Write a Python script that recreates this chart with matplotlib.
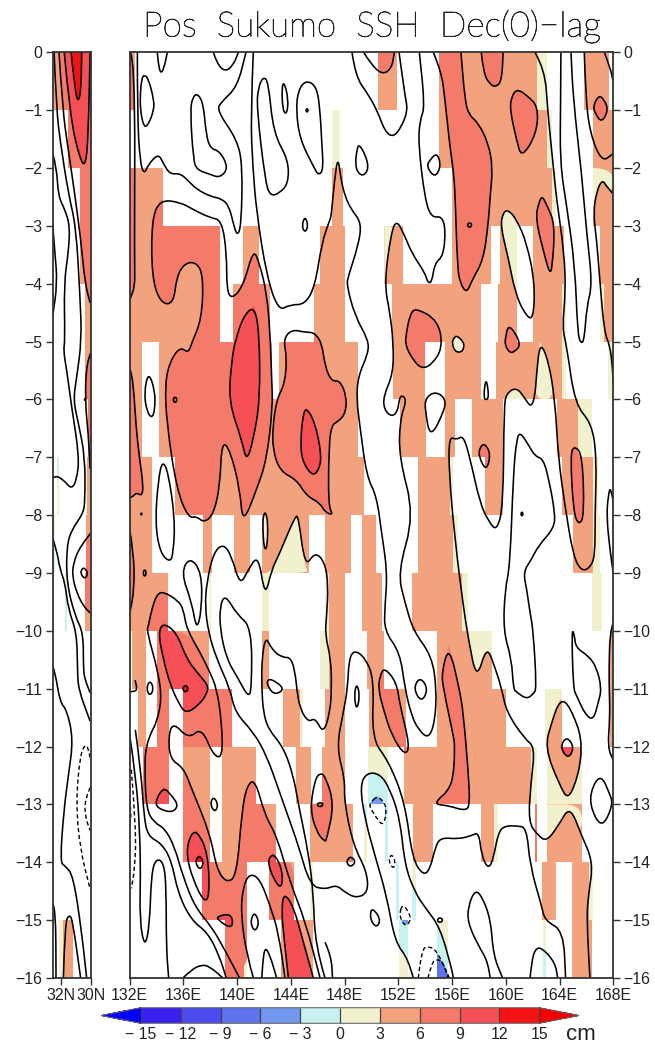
import numpy as np
import matplotlib
matplotlib.use('Agg')
import matplotlib.pyplot as plt
import matplotlib.patheffects as pe
from matplotlib.colors import ListedColormap, BoundaryNorm
from matplotlib.cm import ScalarMappable
from matplotlib.path import Path
from matplotlib.patches import PathPatch

plt.rcParams['font.family'] = ['Liberation Sans', 'DejaVu Sans']

levels = [-15, -12, -9, -6, -3, 0, 3, 6, 9, 12, 15]
level_colors = ['#3a20ee', '#4a4cf0', '#5e74ec', '#7398f0', '#c6f2f0',
                '#f1f1cd', '#f2a27c', '#f47a6a', '#f45055', '#f51212']
lag_ticks = list(range(0, -17, -1))
lon_ticks = list(range(132, 169, 4))

# shaded stretches per lag row (row i spans lag -i to -i-1): start, end, class lower bound
main_rows = [
    [(132, 132.4, 3), (150.46, 151.87, 3), (155.05, 162.3, 3), (162.3, 163.04, 0), (165.84, 167.7, 3)],
    [(147.03, 147.65, 0), (155.05, 163.1, 3), (163.1, 163.4, 0), (166.46, 168, 3)],
    [(132, 134.5, 3), (147.03, 147.9, 3), (156, 163.45, 3), (163.45, 163.7, 0), (166.46, 168, 3)],
    [(132, 138.7, 3), (140.46, 141.65, 3), (146.17, 148.05, 3), (150.95, 152.37, 3), (156, 158.87, 3),
     (159.6, 160.8, 3), (162.05, 164.35, 3), (167, 168, 3)],
    [(132, 138.7, 3), (139.7, 142.45, 3), (145.75, 148.05, 3), (151.5, 158.15, 3), (159.44, 160.8, 3),
     (162.05, 164.2, 3), (164.2, 164.45, 0), (167, 167.3, 0), (167.3, 168, 3)],
    [(132, 132.9, 3), (134.2, 142.57, 3), (143.13, 149.0, 3), (151.62, 153.98, 3), (155.47, 158.15, 3),
     (159.3, 164.2, 3), (164.2, 164.45, 0), (167.63, 168, 0)],
    [(132, 132.9, 3), (134.2, 149.0, 3), (152.12, 154.05, 3), (155.47, 156.2, 3), (157.45, 159.8, 3),
     (163.78, 165.4, 3), (165.4, 166.4, 0)],
    [(132, 133.64, 3), (135.37, 149.46, 3), (153.48, 155.85, 3), (155.85, 156.1, 0), (158.45, 159.8, 3),
     (164.15, 166.5, 3), (166.5, 166.88, 0)],
    [(132, 133.64, 3), (137.48, 138.1, 3), (139.8, 140.96, 3), (141.83, 145.37, 3), (146.54, 148.47, 3),
     (149.3, 150.3, 3), (153.48, 156.1, 3), (156.1, 156.45, 0), (165.02, 166.5, 3), (166.5, 167, 0)],
    [(132, 134.88, 3), (137.9, 138.05, 0), (141.83, 142.4, 0), (146.55, 146.8, 0), (146.8, 148, 3),
     (149.3, 150.8, 3), (153, 156.7, 3), (156.7, 157.2, 0), (166.4, 167.13, 0)],
    [(132.2, 133.2, 3), (134, 137.93, 3), (141.83, 142.4, 3), (146.17, 146.8, 0), (146.8, 148, 3),
     (149.7, 150.9, 3), (154.85, 158.95, 3), (167.75, 168, 3)],
    [(132.65, 133.2, 3), (134, 134.95, 6), (135.95, 139.64, 6), (143.4, 144.7, 3), (144.7, 144.9, 0),
     (146.54, 148, 3), (149.8, 152.6, 3), (154.85, 160, 3), (162.9, 164.2, 0), (167.75, 168, 3)],
    [(133, 134.95, 6), (135.95, 138, 3), (138.85, 141.4, 3), (144.4, 145.5, 3), (146.3, 148, 3),
     (149.75, 151.25, 0), (152.45, 161.9, 3), (161.9, 162.3, 0), (163.1, 165.65, 0)],
    [(135.95, 138, 3), (138.85, 142.9, 3), (145.43, 148.65, 3), (149.45, 149.7, 0), (151, 151.25, 0),
     (153.1, 154.6, 3), (158.15, 159.1, 3), (159.1, 159.4, 0), (162.15, 162.3, 6), (163.1, 165.65, 3)],
    [(137.36, 140.7, 3), (142.4, 144.2, 3), (145.4, 145.65, 0), (151.8, 152.05, 0), (153, 153.3, 0),
     (162.7, 163.7, 3), (164.9, 166.2, 3), (166.2, 166.5, 0)],
    [(139.1, 140.5, 6), (140.5, 140.7, 0), (143.3, 145.67, 3), (152.05, 152.75, 0), (154.85, 155.72, 0),
     (162.8, 163, 0), (164.9, 166.4, 3)],
]
strip_rows = [
    [(32.53, 32.44, 0), (32.44, 30, 3)],
    [(31.49, 30, 3)],
    [(30.71, 30, 3)],
    [(30.71, 30, 3)],
    [(30.38, 30, 3)],
    [(30.38, 30, 3)],
    [(30.2, 30, 3)],
    [(32.22, 32.09, 0), (30.27, 30, 3)],
    [(32.53, 32.38, 0), (30.33, 30, 3)],
    [(31.71, 31.6, 0), (30.38, 30, 3)],
    [], [], [], [], [],
    [(32.09, 31.87, 0), (31.87, 31.16, 3)],
]

# contours, (longitude, lag)
c_edge_top = [(132, 0), (132.4, 0), (132.35, -3.7), (132.4, -4.04), (132.02, -4.27), (132, -4.27)]
c_top_a = [(132.57, 0), (132.57, -1.1), (132.77, -1.9), (133.07, -2.11), (133.39, -1.94), (134.13, -1.75),
           (134.5, -1.92), (135, -2.11), (135.75, -2.09), (136.4, -2.23), (137, -2.37), (138, -2.49),
           (138.85, -2.53), (139.4, -2.66), (139.7, -2.95), (140, -3.18), (140.3, -3.0), (140.4, -1.97),
           (140, -1.51), (138.47, -1), (138.85, -.85), (140, -.6), (140.66, 0)]
c_top_b = [(134.05, 0), (134.13, -.2), (134.3, -.37), (134.55, -.28), (134.8, 0)]
c_top_c = [(138.23, 0), (138.48, -.19), (139.1, -.34), (139.72, -.22), (140.09, 0)]
c_top_d = [(148.55, 0), (148.8, -.42), (149.8, -.74), (150.5, -1.05), (151, -1.37), (151.63, -1.47),
           (152.25, -1.28), (152.7, -1), (152.5, -.76), (152.05, 0)]
c_top_e = [(149.42, 0), (149.9, -.19), (150.8, -.39), (151.5, -.28), (151.7, 0)]
c_top_f = [(158.17, 0), (158.33, -.36), (158.83, -.56), (159.3, -.6), (159.7, -.48), (159.8, 0)]
c_corner = [(167.33, 0), (167.75, -.25), (168, -.51)]
c_right_a = [(165.84, 0), (165.94, -.76), (166.26, -1.39), (167.13, -1.9), (168, -1.75)]
c_right_b = [(168, -2.45), (167.5, -2.32), (167.18, -2.2), (166.76, -2.4), (166.51, -2.78), (166.76, -3.24),
             (167.01, -3.98), (167.33, -4.84), (167.75, -5.07), (167.93, -5.43), (168, -5.72)]
c_tube_k = [(164.1, 0), (164.08, -.82), (164.03, -1.91), (164.53, -2.66), (165.15, -3.7), (165.34, -4.85),
            (165.59, -5.04), (165.84, -4.97), (166.02, -4.4), (166.44, -4.01), (166.02, -3.13),
            (165.64, -2.09), (165.02, -.82), (164.85, 0)]
c_ridge_e = [(154.6, 0), (155.2, -.33), (155.47, -.82), (155.83, -1.62), (156.15, -2.14), (156.25, -2.66),
             (156.4, -3.7), (156.58, -3.98), (157.08, -4.17), (157.5, -3.93), (158.33, -3.59), (158.7, -2.95),
             (158.83, -2.49), (159.03, -2), (158.7, -1.57), (157.95, -1.22), (157.25, -1.08), (156.95, -.82),
             (156.66, 0)]
c_long_m = [(141.2, 0), (141.0, -1.11), (141.16, -1.97), (141.45, -2.78), (142.2, -3.87), (143.07, -4.47),
            (143.94, -4.36), (145.05, -4.36), (145.8, -4.04), (146.3, -3.29), (146.91, -2.89), (147.0, -2.83),
            (147.25, -2.2), (147.5, -1.8), (147.73, -2.2), (148.03, -2.49), (148.5, -2.72), (149.27, -2.95),
            (149, -3.35), (148.27, -3.87), (148.15, -4.02), (148.77, -4.56), (149.76, -4.97), (149.76, -5.2),
            (149.0, -5.6), (148.89, -6), (149.14, -6.47), (149.64, -7.33), (150.38, -7.67), (150.75, -8.3),
            (151.18, -8.99), (151.0, -9.57), (150.95, -10), (152.12, -10.37), (152.49, -11), (152.99, -11.47),
            (153.48, -11.7), (154.23, -11.87), (154.72, -11.58), (154.85, -11), (154.48, -10.43), (153.11, -10),
            (152.49, -9.51), (151.95, -8.99), (153.19, -8), (152.05, -7), (152.12, -6.35), (152.62, -6.01),
            (152.24, -5.92), (152.05, -6.01), (151.95, -6.21), (151.5, -6.3), (150.95, -6.18), (150.88, -5.95),
            (151.62, -5.55), (151.62, -5), (151.37, -4.5), (150.95, -4), (151.45, -3.13), (151.87, -2.89),
            (152.49, -3.18), (153.04, -3.49), (153.98, -3.81), (154.18, -3.98), (154.48, -3.98), (154.72, -3.64),
            (155.35, -3.52), (155.52, -3.06), (155.22, -2.83), (154.48, -2.86), (153.98, -2.55), (153.48, -1.57),
            (153.61, -1.17), (153.98, -.94), (153.56, 0)]
c_long_j = [(162.17, 0), (162.91, -.3), (163.11, -1), (163.53, -1.97), (163.78, -2.55), (164.35, -3.47),
            (164.45, -4.16), (164.2, -4.76), (164.53, -5.08), (165.15, -6.09), (166.39, -6.41), (166.76, -7),
            (166.64, -8), (166.64, -8.71), (166.26, -8.91), (165.64, -8.97), (165.02, -8.71), (164.4, -7.84),
            (163.9, -7), (163.66, -6.01), (163.16, -5.32), (162.54, -5), (162.29, -5.55), (162.17, -5.95),
            (161.87, -6.14), (161.42, -5.98), (160.8, -5.79), (160.06, -5.89), (159.86, -6.12), (159.81, -7.84),
            (159.32, -8.28), (158.7, -8.1), (158.07, -7.79), (157.33, -7.01), (156.83, -6.62), (156.34, -6.7),
            (155.77, -6.64), (155.77, -7.27), (156.21, -8.42), (156.83, -9.57), (157.21, -10.14), (157.83, -10.86),
            (158.57, -10.25), (159.19, -10.63), (159.69, -11), (160.06, -11.41), (161.42, -11.87), (162.17, -12.01),
            (161.87, -12.62), (161.67, -13.31), (162.42, -13.54), (163.04, -13.64), (163.9, -13.37), (164.77, -13.02),
            (165.64, -13.54), (166.51, -14), (166.14, -14.58), (166.02, -14.98), (166.26, -16)]
c_long_d = [(146.54, -16), (145.8, -15.44), (145.67, -14.52), (145.3, -13.83), (144.56, -13), (144.18, -12.5),
            (143.44, -12.01), (142.32, -11.7), (141.95, -11.41), (141.83, -11), (141.83, -10.49), (142.12, -10.09),
            (142.57, -10.32), (143.32, -10.46), (144.06, -10.46), (144.38, -10.83), (144.43, -11), (144.68, -11.35),
            (145.3, -11.58), (145.8, -11.5), (146.42, -11.78), (146.91, -11.41), (147.03, -11), (146.98, -10.49),
            (146.54, -10.06), (146.66, -9.74), (146.78, -9.22), (146.54, -8.82), (145.8, -8.63), (145.05, -8.91),
            (144.56, -8.02), (144.31, -8.02), (143.07, -8.71), (142.57, -8.94), (142.07, -9.43), (141.58, -8.68),
            (140.83, -8.94), (140.21, -9.22), (139.59, -8.71), (138.97, -8.49), (138.23, -8.65), (137.73, -9.17),
            (137.61, -9.57), (137.86, -10.03), (138.48, -10.49), (139.47, -11), (139.84, -11.41), (141.21, -11.75),
            (142.2, -12.16), (143.07, -12.73), (143.69, -13.14), (144.56, -13.71), (145.42, -14.4), (146.54, -14.47),
            (147.4, -14.39), (148.02, -14.52), (148.89, -14.62), (149.76, -14.52), (149.64, -14.15), (148.65, -13.71),
            (147.97, -12.96), (148.02, -12.56), (147.4, -12.01), (147.9, -11.41), (148.22, -11), (148.32, -10.49),
            (148.72, -10.33), (149.51, -10.46), (150.2, -10.83), (150.01, -11.87), (151.25, -12.24), (152.49, -12.96),
            (153.04, -13.94), (153.86, -14.23), (154.35, -14.12), (154.72, -13.77), (155.1, -13.57), (156.46, -13.6),
            (157.45, -13.54), (157.99, -13.48), (158.2, -13.89), (158.7, -14.12), (159.07, -13.94), (159.44, -13.48),
            (159.93, -13.37), (160.8, -13.37), (161.55, -13.4), (161.8, -14.06), (162.66, -14.75), (162.91, -15.01),
            (164.28, -15.18), (164.45, -16)]
c_long_s = [(140.18, -16), (138.94, -15.45), (138.07, -15.11), (136.83, -14.76), (135.96, -14.24), (135.34, -13.73),
            (134.6, -13.41), (133.85, -13.32), (133.23, -13.09), (133.11, -12.29), (133.23, -12), (133.6, -11.75),
            (134.01, -11.58), (134.38, -11.18), (134.13, -10.72), (133.27, -10), (133.39, -9.91), (133.64, -9.63),
            (134.01, -9.37), (134.51, -9.32), (135.62, -9.48), (136, -9.63), (136.24, -9.97), (137.24, -10.37),
            (137.98, -10.72), (138.48, -11), (138.85, -11.58), (138.92, -12.19), (138.23, -12.16), (137.36, -11.67),
            (136.37, -11.87), (135.25, -11.58), (134.88, -11.81), (135, -12.22), (135.99, -12.36), (136.62, -12.73),
            (137.98, -13.51), (138.48, -14.12), (139.22, -14.36), (139.97, -14.23), (140.34, -13.14), (140.71, -12.68),
            (141.33, -12.56), (142.07, -13.19), (142.94, -13.54), (143.94, -14.35), (145.05, -15), (146.17, -16)]
c_low_a = [(132.42, -11.71), (132.86, -12.46), (133.06, -13.21), (133.36, -13.55), (134.35, -13.67), (135.1, -13.96),
           (135.59, -14.53), (136.58, -15), (137.83, -15.22), (138.69, -15.63), (139.19, -16)]
c_low_b = [(132, -11.8), (132.49, -12.57), (132.74, -13.44), (132.81, -14.19), (132.74, -15.0), (133.11, -15.48),
           (133.48, -15.11), (133.61, -14.19), (133.98, -13.93), (134.55, -14.01), (134.72, -14.47), (134.72, -15.45),
           (134.9, -16)]
c_low_d = [(135.96, -16), (136.58, -15.86), (137.33, -15.77), (137.95, -15.8), (138.94, -16)]
c_low_e = [(141.21, -16), (140.71, -15.61), (140.26, -14.87), (140.46, -14.4), (140.96, -14.19), (141.7, -14.29),
           (142.45, -14.75), (143.07, -15.21), (143.56, -16)]
c_low_f = [(141.83, -16), (141.9, -15.73), (142.07, -15.46), (142.45, -15.61), (142.94, -16)]
c_red_band = [(143.81, -16), (143.44, -15.21), (143.32, -14.87), (143.44, -14.52), (144.18, -14.75),
              (144.93, -15.38), (145.67, -16)]
c_tube = [(153.11, -16), (152.74, -15.67), (151.75, -15.38), (151.13, -14.58), (150.26, -13.89), (149.51, -13.25),
          (149.14, -12.68), (149.64, -12.45), (150.63, -12.47), (151.37, -12.73), (152.12, -13.25), (152.49, -14.06),
          (153.24, -14.52), (153.98, -14.78), (155.1, -15.12), (155.97, -15.84), (156.09, -16)]
c_bot_a = [(146.54, -15.38), (147.0, -15.62), (147.1, -16)]
c_bot_b = [(158.83, -16), (158.7, -15.73), (157.95, -15.44), (157.16, -15.04), (157.21, -14.75), (157.7, -14.48),
           (158.2, -14.58), (158.87, -14.98), (159.07, -15.61), (159.76, -16)]
c_bot_c = [(161.8, -16), (161.92, -15.73), (162.17, -15.5), (162.66, -15.47), (163.66, -15.73), (163.86, -16)]
c_right_d = [(168, -7.77), (167.8, -7.49), (167.62, -7.67), (167.5, -8.02), (167.75, -8.6), (168, -9.0)]
c_right_e = [(168, -9.86), (167.75, -10), (167.68, -10.7), (167.7, -11), (167.75, -11.5), (167.58, -12.01), (168, -12.24)]
c_left_mid = [(132, -5.46), (132.02, -5.46), (132.27, -5.72), (132.47, -6.47), (132.72, -7), (133.02, -7.5),
              (132.9, -7.67), (132.52, -7.61), (132.27, -7.67), (132.02, -7.7), (132, -7.7)]
c_left_low = [(132, -8.25), (132.3, -8.65), (132.35, -9.28), (132, -9.7)]
c_left_tick = [(132, -11.05), (132.4, -11.05), (132.55, -11), (132.4, -10.85)]

# closed contours
k_a = [(133.07, -.39), (133.39, -.45), (133.8, -.82), (133.8, -1), (133.39, -1.25), (133.07, -1.3), (132.82, -1.05), (132.77, -.76), (132.9, -.45)]
k_b = [(137.04, -.71), (137.48, -.88), (137.68, -1.4), (137.98, -1.66), (138.72, -1.71), (139.35, -2), (138.72, -2.17), (137.98, -2.11), (137, -2.03), (136.74, -1.86), (136.5, -1), (136.7, -.77)]
k_c = [(141.95, -.42), (142.32, -.51), (142.7, -1.4), (143.81, -1.86), (143.81, -2.26), (143.19, -2.43), (142.45, -2.49), (142.07, -2.2), (141.45, -.94), (141.58, -.6)]
k_d = [(143.5, -.51), (143.82, -.82), (143.69, -1.08), (143.39, -1), (143.32, -.6)]
k_e = [(145.13, -.48), (145.92, -.59), (146.17, -1), (146.3, -1.57), (146.42, -2.03), (146.05, -2.13), (145.67, -1.97), (144.68, -1.51), (144.38, -1), (144.55, -.65)]
k_f = [(145.05, -2.83), (145.3, -3.0), (145.05, -3.12), (144.8, -3)]
k_g = [(149.05, -1.58), (149.54, -1.77), (149.8, -2), (149.42, -2.14), (148.95, -2.08), (148.8, -1.91), (148.9, -1.71)]
k_h = [(154.85, -1.74), (155.15, -1.91), (154.97, -2.09), (154.6, -2.14), (154.1, -1.97), (154.35, -1.86)]
k_i = [(160.85, -.63), (161.65, -.76), (162.4, -.94), (162.3, -1.4), (161.18, -1.83), (160.8, -1.52), (160.3, -.99), (160.43, -.76)]
k_m = [(166.93, -.74), (167.33, -.82), (167.63, -1), (167.13, -1.22), (166.63, -1.05), (166.5, -.92)]
k_o = [(162.7, -2.48), (163.07, -2.65), (163.66, -2.97), (163.45, -3.75), (163.25, -3.81), (162.96, -3.58), (162.2, -2.88), (162.45, -2.6)]
k_p = [(160.17, -2.72), (160.8, -2.89), (161.55, -3.29), (162.16, -3.98), (162.05, -4.64), (161.4, -4.52), (160.7, -4.16), (160.17, -3.54), (159.6, -3), (159.8, -2.77)]
k_q = [(153.25, -4.41), (154.98, -4.64), (155.3, -5.11), (154.48, -5.4), (153.73, -5.47), (153.1, -5.32), (152.5, -5.06), (152.6, -4.84), (152.85, -4.55)]
k_r = [(156.33, -4.89), (156.83, -5), (156.9, -5.09), (156.7, -5.19), (156.2, -5.17), (156, -5.03), (156.1, -4.95)]
k_s = [(160.18, -4.72), (160.68, -4.84), (161.1, -5.06), (160.68, -5.17), (160.3, -5.2), (159.93, -5.06), (159.98, -4.92)]
k_t = [(158.53, -5.61), (158.75, -5.95), (158.53, -6.02), (158.33, -5.95)]
k_u = [(154, -5.98), (154.74, -5.86), (155.5, -5.98), (155.45, -6.18), (154.38, -6.68), (154, -6.2)]
k_v = [(158.43, -6.75), (158.88, -6.95), (158.55, -7.24), (158, -7), (158.03, -6.84)]
k_w = [(165.1, -6.8), (165.7, -6.95), (165.84, -8), (165.45, -8.18), (165.03, -7.95), (164.8, -6.95)]
k_y = [(159.81, -10), (159.94, -9.28), (160.31, -8.88), (160.56, -7.27), (160.8, -6.7), (161.05, -6.56), (161.67, -6.78), (162.17, -6.98), (162.79, -7.03), (163.21, -7.39), (163.66, -7.96), (163.6, -8.22), (162.42, -8.53), (161.92, -8.76), (161.3, -8.98), (161.55, -9.28), (161.8, -9.68), (162.04, -10), (162.29, -11), (162.04, -11.09), (161.55, -11.18), (160.8, -11.06), (160.56, -11), (160.43, -10.49)]
k_aa = [(164.9, -9.97), (165.1, -10.06), (165.2, -10.29), (166.14, -10.43), (166.76, -10.63), (167.13, -11), (166.88, -11.24), (166.51, -11.55), (165.89, -11.44), (165.27, -11.12), (165.02, -11)]
k_big_a = [(134.26, -2.55), (135.75, -2.59), (136.74, -2.72), (137.98, -2.86), (138.85, -2.9), (139.22, -3.47), (139.22, -4.1), (139.59, -4.27), (140.46, -4.04), (141.2, -3.4), (141.65, -3.64), (142.2, -4.16), (142.45, -4.84), (142.57, -5.66), (142.65, -6.12), (142.2, -7.04), (141.45, -7.56), (140.41, -8.16), (140.21, -7.56), (139.47, -6.87), (138.85, -6.72), (138.72, -7.5), (138.23, -7.99), (137.53, -8.13), (136.99, -8.02), (136.37, -8.05), (135.5, -7.56), (134.75, -6.41), (134.63, -5.72), (135, -5.34), (135.75, -5.09), (136.37, -5.2), (136.62, -5.02), (137.36, -4.61), (137.48, -3.87), (136.99, -3.63), (136.12, -3.64), (135.5, -3.87), (135.25, -4.36), (134.26, -4.33), (133.64, -3.87), (133.64, -2.89)]
k_big_b = [(144.06, -4.79), (145.05, -4.84), (145.72, -4.84), (146.3, -5.02), (146.54, -5.43), (147.03, -5.69), (147.65, -5.67), (148.15, -5.95), (148.07, -6.24), (147.53, -6.38), (147.03, -6.44), (146.83, -6.81), (146.78, -7.84), (147.16, -8.0), (146.54, -7.95), (146.17, -7.79), (145.18, -7.67), (144.43, -7.39), (143.19, -7.24), (142.65, -6.87), (142.65, -6.47), (142.94, -6), (143.56, -5.72), (143.69, -5.26), (143.44, -4.96)]
k_red_a = [(141.28, -4.38), (141.65, -4.85), (141.7, -6.02), (141.2, -6.7), (140.7, -7.08), (140.34, -6.7), (139.35, -6.02), (139.6, -5.32), (139.84, -5), (140.46, -4.56)]
k_red_b = [(145.13, -6.13), (145.8, -6.4), (146.3, -6.98), (146.05, -7.24), (145.55, -7.32), (144.8, -7.04), (144.73, -6.7), (144.88, -6.3)]
k_red_c = [(134.5, -9.86), (135.5, -10.03), (136.24, -10.49), (137.24, -10.78), (137.86, -10.95), (137.73, -11.09), (137.24, -11.26), (136.19, -11.44), (135.62, -11.24), (135, -10.92), (134.5, -10.49), (134.13, -10.03)]
k_red_d = [(137.0, -13.44), (137.83, -13.84), (137.95, -14.59), (137.53, -14.69), (136.71, -14.3), (136.21, -13.87), (136.46, -13.55)]
k_red_e = [(138.6, -14.93), (139.47, -14.89), (139.72, -15.04), (139.47, -15.14), (138.48, -14.98)]
k_red_f = [(142.69, -13.83), (143.32, -14.09), (143.39, -14.4), (143, -14.42), (142.2, -14)]
k_red_g = [(134.5, -12.69), (135.13, -12.85), (135.62, -13.01), (135.25, -13.13), (134.5, -13.11), (133.8, -13)]
k_bright_a = [(137.16, -13.87), (137.53, -14), (137.24, -14.14), (136.86, -14)]
k_bright_b = [(136.15, -10.93), (136.4, -11), (136.15, -11.07), (135.9, -11)]
k_low_a = [(133.39, -5.52), (133.88, -5.84), (133.88, -6.18), (133.64, -6.33), (133.27, -6.2), (133.07, -5.89)]
k_low_b = [(134.44, -7.05), (134.88, -7.27), (135.37, -8.07), (135.25, -8.65), (135, -8.82), (134.26, -8.65), (133.89, -8.13), (134.13, -7.38)]
k_low_c = [(142.12, -7.94), (142.3, -8.15), (142.22, -8.58), (142.0, -8.58), (141.9, -8.2), (141.95, -8)]
k_low_d = [(136.99, -10), (137.36, -9.63), (137.36, -8.99), (136.49, -8.72), (135.82, -8.99), (136.62, -9.51)]
k_low_e = [(139.1, -9.37), (139.97, -9.71), (141.08, -9.94), (141.08, -11), (140.83, -11.15), (140.09, -10.83), (139.22, -10.49), (138.72, -9.97), (138.72, -9.57)]
k_low_f = [(142.2, -10.86), (142.57, -10.83), (143.56, -11), (142.82, -11.11), (142.32, -10.98)]
k_low_g = [(138.23, -12.86), (138.6, -13), (138.35, -13.14), (137.98, -13)]
k_low_h = [(141.28, -14.85), (141.65, -15.04), (141.33, -15.21), (140.96, -15.04)]
k_low_i = [(133.51, -10.85), (133.8, -11), (133.51, -11.13), (133.22, -11)]
k_mid_a = [(145.8, -12.56), (146.17, -12.46), (146.54, -12.5), (147.23, -12.99), (146.66, -13.6), (146.54, -13.65), (145.92, -13.48), (145.42, -13.08)]
k_mid_b = [(148.43, -13.89), (148.85, -13.99), (148.43, -14.09), (148.1, -13.99)]
k_mid_c = [(150, -14.77), (150.7, -14.98), (150.38, -15.14), (149.88, -14.98)]
k_pocket = [(150.95, -10.63), (151.87, -10.89), (152.12, -11.29), (152.86, -11.99), (152.49, -12.16), (151.5, -11.81), (150.88, -11.35), (150.5, -11), (150.63, -10.78)]
k_diamond = [(164.03, -11.18), (164.77, -11.29), (165.89, -12.01), (164.77, -12.98), (163.9, -12.62), (162.91, -12.01), (163.41, -11.58)]
k_tiny_d = [(164.53, -11.82), (165.1, -12.01), (164.65, -12.22), (164.03, -12.01)]
k_tall = [(155.77, -10.25), (156.54, -11), (156.83, -11.41), (157.21, -12.45), (157.33, -13.02), (156.95, -13.11), (155.72, -13.02), (154.72, -13), (155.1, -12.88), (155.6, -12.79), (156.09, -12.56), (156.21, -11.99), (156.09, -11.81), (155.35, -11), (155.22, -10.72)]
k_thin = [(148.9, -10.9), (149.14, -11.12), (148.9, -11.38), (148.7, -11.12)]
k_dia_b = [(153.6, -10.79), (154.23, -11), (153.73, -11.24), (153.11, -11)]
k_east = [(167.13, -12.5), (167.7, -12.8), (168, -13), (167.13, -13.43), (166.2, -13), (166.5, -12.65)]
k_dot_a = [(145.2, -.97), (145.3, -1), (145.2, -1.04), (145.1, -1)]
k_dot_b = [(157.3, -2.94), (157.5, -2.98), (157.3, -3.04), (157.1, -2.98)]
k_dot_c = [(135.37, -5.95), (135.55, -6), (135.37, -6.07), (135.2, -6)]
k_dot_d = [(133.12, -8.93), (133.25, -9), (133.12, -9.07), (132.98, -9)]
k_dot_e = [(161.2, -7.94), (161.3, -7.98), (161.2, -8.02), (161.1, -7.98)]
k_dot_f = [(146.17, -12.96), (146.45, -13), (146.17, -13.05), (145.9, -13)]
k_dot_g = [(155.1, -14.95), (155.35, -15), (155.1, -15.05), (154.85, -15)]
k_dot_h = [(132.87, -7.96), (132.93, -7.98), (132.87, -8.0), (132.81, -7.98)]

# dashed (negative) contours
n_a = [(150.38, -12.85), (151, -12.97), (151.12, -13.14), (150.88, -13.36), (150.5, -13.28), (149.88, -13.05), (149.88, -12.99)]
n_b = [(151.5, -13.85), (151.8, -14), (151.62, -14.12), (151.25, -13.97)]
n_c = [(152.3, -14.72), (152.75, -14.85), (152.95, -15), (152.5, -15.12), (152.05, -14.92)]
n_d = [(153.48, -16), (153.73, -15.5), (154.23, -15.45), (154.85, -15.52), (155.8, -16)]
n_e = [(154.2, -16), (154.5, -15.73), (154.85, -15.67), (155.35, -15.73), (155.7, -16)]
n_f = [(132.12, -12.4), (132.49, -13.44), (132.37, -14.13), (132.12, -14.45)]
n_g = [(132, -12.92), (132.12, -13.15), (132, -13.35)]

main_open = [c_edge_top, c_top_a, c_top_b, c_top_c, c_top_d, c_top_e, c_top_f, c_corner, c_right_a, c_right_b,
             c_tube_k, c_ridge_e, c_long_m, c_long_j, c_long_d, c_long_s, c_low_a, c_low_b, c_low_d,
             c_low_e, c_low_f, c_red_band, c_tube, c_bot_a, c_bot_b, c_bot_c, c_right_d, c_right_e, c_left_mid,
             c_left_low, c_left_tick]
main_closed = [k_a, k_b, k_c, k_d, k_e, k_f, k_g, k_h, k_i, k_m, k_o, k_p, k_q, k_r, k_s, k_t, k_u, k_v, k_w, k_y,
               k_aa, k_big_a, k_big_b, k_red_a, k_red_b, k_red_c, k_red_d, k_red_e, k_red_f, k_red_g, k_bright_a,
               k_bright_b, k_low_a, k_low_b, k_low_c, k_low_d, k_low_e, k_low_f, k_low_g, k_low_h, k_low_i,
               k_mid_a, k_mid_b, k_mid_c, k_pocket, k_diamond, k_tiny_d, k_tall, k_thin, k_dia_b, k_east,
               k_dot_a, k_dot_b, k_dot_c, k_dot_d, k_dot_e, k_dot_f, k_dot_g, k_dot_h]
main_dashed = [n_d, n_e, n_f, n_g]
main_dashed_closed = [n_a, n_b, n_c]

# areas bounded by the contours and the cells
area_lower = [(135.75, -12.36), (135.99, -12.36), (136.62, -12.73), (137.98, -13.51), (138.48, -14.12), (139.22, -14.36),
              (139.97, -14.23), (140.34, -13.14), (140.71, -12.68), (141.33, -12.56), (142.07, -13.19), (142.94, -13.54),
              (143.07, -14), (144.31, -14), (144.31, -15), (140.83, -15), (140.83, -16), (135.75, -16)]
area_upper = [(134, -10), (136.24, -9.97), (137.24, -10.37), (137.98, -10.72), (138.1, -11), (134, -11)]
area_row9 = [(133.3, -10), (133.64, -9.63), (134.01, -9.37), (134.51, -9.32), (135, -9.4), (135, -10)]
pale_corner = [(166.46, -2), (168, -2), (168, -2.45), (167.18, -2.2), (166.76, -2.4), (166.51, -2.78), (166.46, -2.78)]
pale_row3 = [(150.95, -3), (151.8, -3), (151.45, -3.13), (150.95, -4)]
pale_row5a = [(159.86, -6), (160.06, -5.89), (160.8, -5.79), (161.42, -5.98), (161.6, -6)]
pale_row5b = [(162.54, -5), (163.16, -5.32), (163.66, -6), (162.15, -6), (162.29, -5.55)]
pale_row8 = [(142.57, -8.94), (143.07, -8.71), (144.31, -8.02), (144.56, -8.02), (145.05, -8.91), (145.37, -9), (142.2, -9)]
pale_row10 = [(157.2, -10), (157.21, -10.14), (157.83, -10.86), (158.57, -10.25), (159.19, -10.63), (159.2, -10)]
pale_row13 = [(163.04, -13.64), (163.9, -13.37), (164.77, -13.02), (165.64, -13.54), (165.7, -13), (163.04, -13)]

main_fills = [
    (0, [k_p, k_r, k_low_c, pale_corner, pale_row3, pale_row5a, pale_row5b, pale_row8, pale_row10, pale_row13]),
    (3, [k_diamond]),
    (6, [c_edge_top, c_top_e, c_top_f, c_ridge_e, k_i, k_m, k_o, k_q, k_s, k_v, k_w, k_big_a, k_big_b, c_left_mid,
         c_left_low, k_pocket, k_tall, k_mid_a, area_lower, area_upper, area_row9, k_mid_b]),
    (9, [k_red_a, k_red_b, k_red_c, k_red_d, k_red_e, k_red_f, k_red_g, c_red_band, k_tiny_d]),
    (12, [k_bright_a, k_bright_b]),
    (-3, [c_tube, c_bot_c]),
    (-6, [n_a, n_c, n_d]),
    (-9, [n_e]),
]

# strip at the left, (latitude, lag)
s_a = [(32.44, 0), (32.27, -1), (32.04, -1.52), (31.49, -2.44), (30.98, -3.01), (30.71, -4.22), (30.6, -4.97),
       (30.93, -5.61), (31.16, -6.01), (30.82, -6.41), (30.38, -6.99), (30.38, -7.74), (30.49, -7.97), (31.27, -8.25),
       (31.6, -8.54), (31.6, -9.17), (31.04, -9.75), (30.49, -10.03), (30.49, -10.67), (30.38, -10.84), (30.04, -11.07)]
s_b = [(32.11, 0), (31.87, -1), (31.49, -1.69), (31.04, -2.49), (30.66, -3.24), (30.38, -3.99), (30.04, -4.33)]
s_b_area = s_b + [(30, -4.33), (30, 0)]
s_c = [(31.76, 0), (31.38, -1.11), (30.71, -1.86), (30.33, -1.97), (30.16, -1.4), (30.04, 0)]
s_d = [(31.31, 0), (31.04, -.66), (30.84, -.87), (30.64, -.66), (30.6, 0)]
s_e = [(32.53, -1.75), (32.27, -1.98), (32.16, -2.49), (31.71, -2.72), (31.38, -3.01), (31.49, -3.47), (31.78, -3.99),
       (31.71, -4.99), (31.82, -5.15), (31.6, -5.49), (31.27, -6.13), (30.76, -6.99), (30.93, -7.39), (31.27, -7.55),
       (31.71, -7.42), (32.22, -7.32), (32.53, -7.36)]
s_f = [(32.53, -2.98), (32.38, -3.47), (32.22, -3.99), (32.53, -4.56)]
s_g = [(30, -5.2), (30.27, -5.35), (30.38, -6), (30.16, -6.6), (30.04, -7.2)]
s_g_area = s_g + [(30, -7.2)]
s_h = [(30, -8.31), (30.71, -8.54), (31.16, -8.83), (31.22, -9.06), (30.93, -9.34), (30.49, -9.57), (30.04, -9.69)]
s_i = [(32.53, -8.4), (32.27, -8.6), (32.04, -8.94), (31.71, -9.17), (31.49, -9.63), (30.93, -10.03), (30.88, -10.67),
       (30.82, -11.01), (30.04, -11.56)]
s_j = [(32.53, -10.61), (32.38, -10.7), (32.04, -11.24), (31.6, -11.36), (31.16, -11.87), (31.49, -12.51), (31.78, -13.08),
       (32.04, -14), (31.71, -14.06), (31.16, -14.23), (30.6, -15.21), (30.27, -16)]
s_k = [(32.53, -14.72), (32.33, -14.78), (32.31, -16)]
s_l = [(31.82, -16), (31.71, -15.04), (31.42, -14.9), (31.2, -15.01), (30.67, -16)]
s_ring = [(30.49, -8.89), (30.16, -9), (30.38, -9.11), (30.71, -9)]
s_dot = [(30.38, -5.98), (30.34, -6), (30.38, -6.02), (30.42, -6)]
s_n_a = [(30.04, -12.19), (30.16, -12.02), (30.38, -11.96), (30.71, -12.16), (30.98, -12.97), (30.71, -13.77), (30.04, -14.46)]
s_n_b = [(30.04, -12.71), (30.38, -12.91), (30.38, -13.2), (30.04, -13.45)]
s_cyan_a = [(32.22, -7), (32.09, -7), (32.09, -7.35), (32.22, -7.32)]
s_cyan_b = [(32.53, -8.4), (32.27, -8.6), (32.1, -9), (32.53, -9)]
s_cyan_c = [(31.71, -9.3), (31.6, -9.3), (31.6, -10), (31.71, -10)]

strip_open = [s_a, s_b, s_c, s_d, s_e, s_f, s_g, s_h, s_i, s_j, s_k, s_l]
strip_closed = [s_ring, s_dot]
strip_dashed = [s_n_a, s_n_b]
strip_fills = [
    (-3, [s_cyan_a, s_cyan_b, s_cyan_c]),
    (6, [s_b_area, s_g_area, s_h]),
    (9, [s_c]),
    (12, [s_d]),
]

cmap = ListedColormap(level_colors)
cmap.set_under('#0000ff')
cmap.set_over('#f50000')
norm = BoundaryNorm(levels, cmap.N)


def smooth_path(points, closed=False):
    # quadratic curves through the midpoints, the points stay as read
    pts = np.array(points, dtype=float)
    if closed:
        mids = (pts + np.roll(pts, -1, axis=0)) / 2
        verts = [mids[-1]]
        codes = [Path.MOVETO]
        for p, m in zip(pts, mids):
            verts += [p, m]
            codes += [Path.CURVE3, Path.CURVE3]
    else:
        verts = [pts[0]]
        codes = [Path.MOVETO]
        for i in range(1, len(pts) - 1):
            verts += [pts[i], (pts[i] + pts[i + 1]) / 2]
            codes += [Path.CURVE3, Path.CURVE3]
        verts.append(pts[-1])
        codes.append(Path.LINETO)
    return Path(verts, codes)


def draw_panel(ax, rows, fills, solid, closed, dashed, dashed_closed):
    rects = []
    for i, row in enumerate(rows):
        for start, end, value in row:
            ax.barh(-i - 0.5, end - start, left=start, height=1, color=cmap(norm(value + 0.1)), linewidth=0, zorder=1)
            rects.append(Path([(start, -i), (end, -i), (end, -i - 1), (start, -i - 1), (start, -i)], closed=True))
    mask = Path.make_compound_path(*rects)
    z = 2
    for value, shapes in fills:
        for shape in shapes:
            patch = PathPatch(smooth_path(shape), facecolor=cmap(norm(value + 0.1)), edgecolor='none', zorder=z)
            ax.add_patch(patch)
            patch.set_clip_path(mask, ax.transData)
        z += 0.1
    for shape in solid:
        ax.add_patch(PathPatch(smooth_path(shape), facecolor='none', edgecolor='black', lw=1.15, zorder=5))
    for shape in closed:
        ax.add_patch(PathPatch(smooth_path(shape, True), facecolor='none', edgecolor='black', lw=1.15, zorder=5))
    for shape in dashed:
        ax.add_patch(PathPatch(smooth_path(shape), facecolor='none', edgecolor='black', lw=1.0, ls=(0, (3, 2)), zorder=5))
    for shape in dashed_closed:
        ax.add_patch(PathPatch(smooth_path(shape, True), facecolor='none', edgecolor='black', lw=1.0, ls=(0, (3, 2)), zorder=5))


W, H = 655, 1044
fig = plt.figure(figsize=(W / 100, H / 100), dpi=100)
ax0 = fig.add_axes([52.7 / W, 1 - 978 / H, 38 / W, 925.7 / H])
ax1 = fig.add_axes([129.7 / W, 1 - 978 / H, 483.6 / W, 925.7 / H])

draw_panel(ax0, strip_rows, strip_fills, strip_open, strip_closed, strip_dashed, [])
draw_panel(ax1, main_rows, main_fills, main_open, main_closed, main_dashed, main_dashed_closed)

lag_labels = ['0'] + ['\u2212%d' % (-v) for v in lag_ticks[1:]]
ax0.set_xlim(32.53, 30)
ax0.set_ylim(-16, 0)
ax0.set_xticks([32, 30], ['32N', '30N'])
ax0.set_yticks(lag_ticks, lag_labels)
ax1.set_xlim(132, 168)
ax1.set_ylim(-16, 0)
ax1.set_xticks(lon_ticks, ['%dE' % v for v in lon_ticks])
ax1.set_yticks(lag_ticks, lag_labels)
ax1.yaxis.tick_right()
ax1.tick_params(axis='y', right=True, left=False)

for ax in (ax0, ax1):
    ax.tick_params(length=5, width=1.0, color='#333333', labelsize=11.4, pad=2.5, labelcolor='#222222')
    for spine in ax.spines.values():
        spine.set_linewidth(1.3)
        spine.set_color('#333333')
        spine.set_zorder(10)

title = fig.text(372 / W, 1 - 26 / H, 'Pos  Sukumo  SSH  Dec(0)\u2212lag', fontsize=25.3, ha='center', va='center',
                 color='#222222', fontfamily='Lato', fontweight='light')
title.set_path_effects([pe.withStroke(linewidth=0.5, foreground='#222222')])

cax = fig.add_axes([101 / W, 1 - 1023.3 / H, 478 / W, 15.6 / H])
sm = ScalarMappable(norm=norm, cmap=cmap)
cb = fig.colorbar(sm, cax=cax, orientation='horizontal', extend='both', extendfrac=0.1, drawedges=True, spacing='uniform')
cb.set_ticks(levels)
cb.set_ticklabels(['\u2212 %d' % (-v) if v < 0 else '%d' % v for v in levels])
cb.ax.tick_params(length=0, labelsize=11.4, pad=2.5, labelcolor='#222222')
cb.dividers.set_color('#444444')
cb.dividers.set_linewidth(0.9)
cb.outline.set_edgecolor('#666666')
cb.outline.set_linewidth(0.8)
fig.text(581 / W, 1 - 1034 / H, 'cm', fontsize=16, ha='center', va='center', color='#222222')

fig.savefig('out.png', dpi=100)
